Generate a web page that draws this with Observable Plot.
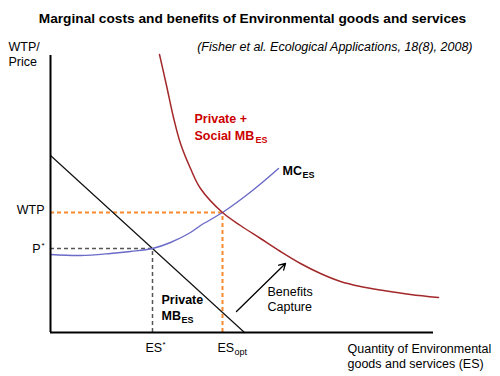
<!DOCTYPE html>
<html><head><meta charset="utf-8">
<script src="https://cdn.jsdelivr.net/npm/d3@7"></script>
<script src="https://cdn.jsdelivr.net/npm/@observablehq/plot@0.6"></script>
<style>body{margin:0;background:#fff}svg{display:block}</style>
</head><body><div id="chart"></div>
<script>
// Private + Social marginal benefit curve (quantity, price)
const socialQ = [109,116,123,130,140,150,172,190,210,230,250,270,290,310,333,360,388];
const socialP = [278,247,215,189,164,144,120,107,94,81,69,59,51,46,42,38,35];
// Marginal cost curve
const mcQ = [0,30,60,80,102,120,140,150,172,202,228];
const mcP = [78,77,79,81,84,90,100,107,120,142,164];
// Private marginal benefit (straight)
const privQ = [0,194];
const privP = [177,0];
// equilibrium points
const esStar = 102, pStar = 84;
const esOpt = 172, wtp = 120;
// arrow "Benefits capture"
const arrowFrom = [186,21], arrowTo = [235,69];

const F = "'Liberation Sans', Arial, sans-serif";
const pts = (qs, ps) => qs.map((q,i)=>({q, p: ps[i]}));
const T = (s, o) => Plot.text([s], {text: d=>d, fontFamily: F, fontSize: 12.5, fill: "#000", ...o});

const chart = Plot.plot({
  width: 500, height: 376, margin: 0,
  x: {domain:[0,383], range:[50,433], axis:null},
  y: {domain:[0,277], range:[332,55], axis:null},
  style: {fontFamily: F, background: "#fff"},
  marks: [
    // dashed guides
    Plot.ruleY([wtp], {x1: 0, x2: esOpt, stroke: "#f78a2e", strokeWidth: 2, strokeDasharray: "4,3"}),
    Plot.ruleX([esOpt], {y1: 0, y2: wtp, stroke: "#f78a2e", strokeWidth: 2, strokeDasharray: "4,3"}),
    Plot.ruleY([pStar], {x1: 0, x2: esStar, stroke: "#555", strokeWidth: 1.5, strokeDasharray: "4,3"}),
    Plot.ruleX([esStar], {y1: 0, y2: pStar, stroke: "#555", strokeWidth: 1.5, strokeDasharray: "4,3"}),
    // curves
    Plot.line(pts(privQ, privP), {x:"q", y:"p", stroke:"#111", strokeWidth:1.2}),
    Plot.line(pts(mcQ, mcP), {x:"q", y:"p", stroke:"#6a6ac8", strokeWidth:1.4, curve:"catmull-rom"}),
    Plot.line(pts(socialQ, socialP), {x:"q", y:"p", stroke:"#a3282a", strokeWidth:1.5, curve:"catmull-rom"}),
    // axes
    Plot.ruleX([0], {y1: 0, y2: 277, stroke:"#000", strokeWidth: 2}),
    Plot.ruleY([0], {x1: 0, x2: 383, stroke:"#000", strokeWidth: 2}),
    // arrow
    Plot.arrow([0], {x1: arrowFrom[0], y1: arrowFrom[1], x2: arrowTo[0], y2: arrowTo[1], stroke:"#000", strokeWidth:1.3, headLength: 8, bend: 0}),
    // titles
    T("Marginal costs and benefits of Environmental goods and services", {x: 202, y: 314, fontWeight: "bold", fontSize: 13.7}),
    T("(Fisher et al. Ecological Applications, 18(8), 2008)", {x: 422, y: 286, textAnchor: "end", fontStyle: "italic"}),
    T("WTP/", {x: -42, y: 286, textAnchor: "start"}),
    T("Price", {x: -42, y: 271, textAnchor: "start"}),
    // y labels
    T("WTP", {x: -6, y: 123, textAnchor: "end"}),
    T("P", {x: -10, y: 84, textAnchor: "end"}),
    T("*", {x: -9, y: 87, textAnchor: "start", fontSize: 8}),
    // x labels
    T("ES", {x: 95, y: -15, textAnchor: "start"}),
    T("*", {x: 112, y: -12, textAnchor: "start", fontSize: 8}),
    T("ES", {x: 167, y: -15, textAnchor: "start"}),
    T("opt", {x: 184, y: -20, textAnchor: "start", fontSize: 9}),
    T("Quantity of Environmental", {x: 297, y: -16, textAnchor: "start"}),
    T("goods and services (ES)", {x: 297, y: -31, textAnchor: "start"}),
    // curve labels
    T("Private +", {x: 144, y: 214, textAnchor: "start", fontWeight: "bold", fill: "#cc0000"}),
    T("Social MB", {x: 144, y: 197, textAnchor: "start", fontWeight: "bold", fill: "#cc0000"}),
    T("ES", {x: 205, y: 192, textAnchor: "start", fontWeight: "bold", fontSize: 9, fill: "#cc0000"}),
    T("MC", {x: 232, y: 162, textAnchor: "start", fontWeight: "bold"}),
    T("ES", {x: 252, y: 157, textAnchor: "start", fontWeight: "bold", fontSize: 9}),
    T("Private", {x: 111, y: 33, textAnchor: "start", fontWeight: "bold"}),
    T("MB", {x: 111, y: 17, textAnchor: "start", fontWeight: "bold"}),
    T("ES", {x: 131, y: 12, textAnchor: "start", fontWeight: "bold", fontSize: 9}),
    T("Benefits", {x: 217, y: 41, textAnchor: "start"}),
    T("Capture", {x: 217, y: 26, textAnchor: "start"})
  ]
});
document.getElementById("chart").appendChild(chart);
</script></body></html>
